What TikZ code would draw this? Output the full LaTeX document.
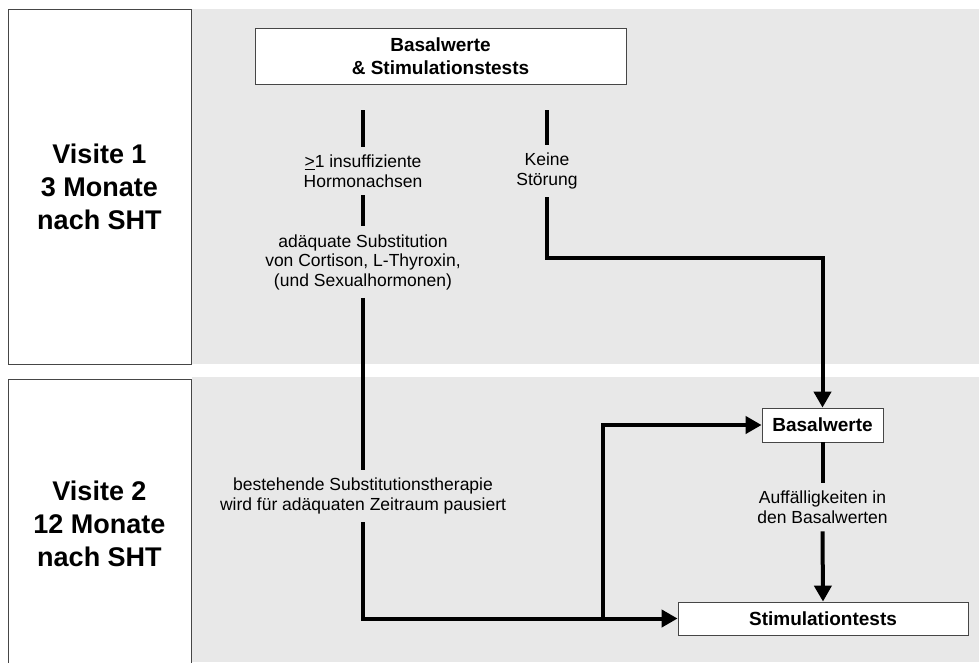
\documentclass[tikz,border=0pt]{standalone}
\usepackage{fontspec}
\setmainfont{Liberation Sans}
\usetikzlibrary{arrows.meta}
\definecolor{bandgray}{RGB}{232,232,232}
\definecolor{edgegray}{RGB}{70,70,70}
\begin{document}
\begin{tikzpicture}[x=1pt,y=-1pt,
  panel/.style={draw=edgegray,line width=0.8pt,fill=white,inner sep=0pt,
    font=\fontsize{27}{33}\selectfont\bfseries,align=center},
  box/.style={draw=edgegray,line width=0.8pt,fill=white,inner sep=0pt,
    font=\fontsize{19}{23}\selectfont\bfseries,align=center},
  lab/.style={font=\fontsize{17.5}{19.5}\selectfont,align=center,inner xsep=0pt,inner ysep=8pt},
  conn/.style={line width=4pt},
  arr/.style={conn,-{Triangle[length=16pt,width=17pt]}}]
\useasboundingbox (0,0) rectangle (979,662);
% bands
\fill[bandgray] (192,9) rectangle (979,364);
\fill[bandgray] (192,377) rectangle (979,662);
% visit panels
\node[panel,minimum width=183pt,minimum height=355pt] (v1) at (99.5,186.5) {Visite 1\\3 Monate\\nach SHT};
\node[panel,minimum width=183pt,minimum height=290pt] (v2) at (99.5,524) {Visite 2\\12 Monate\\nach SHT};
% boxes
\node[box,minimum width=371pt,minimum height=56pt] (top) at (440.5,56) {Basalwerte\\\& Stimulationstests};
\node[box,minimum width=121pt,minimum height=34pt] (bas) at (822.5,425) {Basalwerte};
\node[box,minimum width=290pt,minimum height=33pt] (stim) at (823,618.5) {Stimulationtests};
% labels
\node[lab] (lab1) at (363,171) {\underline{>}1 insuffiziente\\Hormonachsen};
\node[lab] (lab2) at (363,262) {adäquate Substitution\\von Cortison, L-Thyroxin,\\(und Sexualhormonen)};
\node[lab] (lab3) at (363,496) {bestehende Substitutionstherapie\\wird für adäquaten Zeitraum pausiert};
\node[lab] (lab4) at (547,171) {Keine\\Störung};
\node[lab] (lab5) at (822.5,507) {Auffälligkeiten in\\den Basalwerten};
% free ends
\coordinate (s1) at (363,110);
\coordinate (s2) at (547,110);
\coordinate (k) at (547,258);
\path (stim.west) ++(-75,0) coordinate (br);
% connectors
\draw[conn] (s1) -- (lab1.north);
\draw[conn] (lab1.south) -- (lab2.north);
\draw[conn] (lab2.south) -- (lab3.north);
\draw[arr] (lab3.south) |- (stim.west);
\draw[arr] (br) |- (bas.west);
\draw[conn] (s2) -- (lab4.north);
\draw[arr] (lab4.south) -- (k) -| (bas.north);
\draw[conn] (bas.south) -- (lab5.north);
\draw[arr] (lab5.south) -- (stim.north);
\end{tikzpicture}
\end{document}
